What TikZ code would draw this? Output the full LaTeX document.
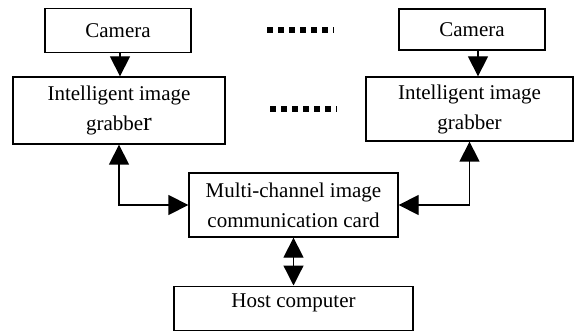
\documentclass[tikz,border=0pt]{standalone}
\usepackage{fontspec}
\setmainfont{Liberation Serif}
\usetikzlibrary{arrows.meta,calc}
\begin{document}
\begin{tikzpicture}[x=1pt, y=-1pt,
    box/.style={draw, line width=1.3pt, inner sep=0pt, align=center, font=\fontsize{21}{30}\selectfont},
    link/.style={line width=1.3pt, -{Triangle[width=20pt,length=20pt]}},
    both/.style={line width=1.3pt, {Triangle[width=20pt,length=20pt]}-{Triangle[width=20pt,length=20pt]}},
    dots/.style={line width=6pt, dash pattern=on 6pt off 5pt}]
    \useasboundingbox (0,0) rectangle (575,331);

    % Draw cameras
    \node[box, minimum width=146pt, minimum height=44pt] (camL) at (118, 30.5) {Camera};
    \node[box, minimum width=146pt, minimum height=41pt] (camR) at (472, 29.5) {Camera};

    % Draw image grabbers
    \node[box, minimum width=212pt, minimum height=67pt] (grabL) at (119, 110.5) {Intelligent image\\grabbe{\fontsize{26}{30}\selectfont r}};
    \node[box, minimum width=207pt, minimum height=64pt] (grabR) at (469.5, 109) {Intelligent image\\grabber};

    % Draw communication card and host
    \node[box, minimum width=209pt, minimum height=64pt] (card) at (293.5, 205) {Multi-channel image\\communication card};
    \node[box, minimum width=239pt, text height=21pt, text depth=23pt, anchor=north] (host) at (293.5, 285.5) {Host computer};

    % Draw the dots between the two channels
    \coordinate (dotsA) at (267, 30);
    \coordinate (dotsB) at (334, 30);
    \coordinate (dotsC) at (270, 109);
    \coordinate (dotsD) at (337, 109);
    \draw[dots] (dotsA) -- (dotsB);
    \draw[dots] (dotsC) -- (dotsD);

    % Draw edges from cameras to grabbers
    \draw[link] ([xshift=2pt]camL.south) -- ([xshift=2pt]camL.south |- grabL.north);
    \draw[link] ([xshift=6pt]camR.south) -- ([xshift=6pt]camR.south |- grabR.north);

    % Draw edges between grabbers, card and host
    \draw[both] (grabL.south) |- (card.west);
    \draw[both] (grabR.south) |- (card.east);
    \draw[both] (card.south) -- (host.north);
\end{tikzpicture}
\end{document}
